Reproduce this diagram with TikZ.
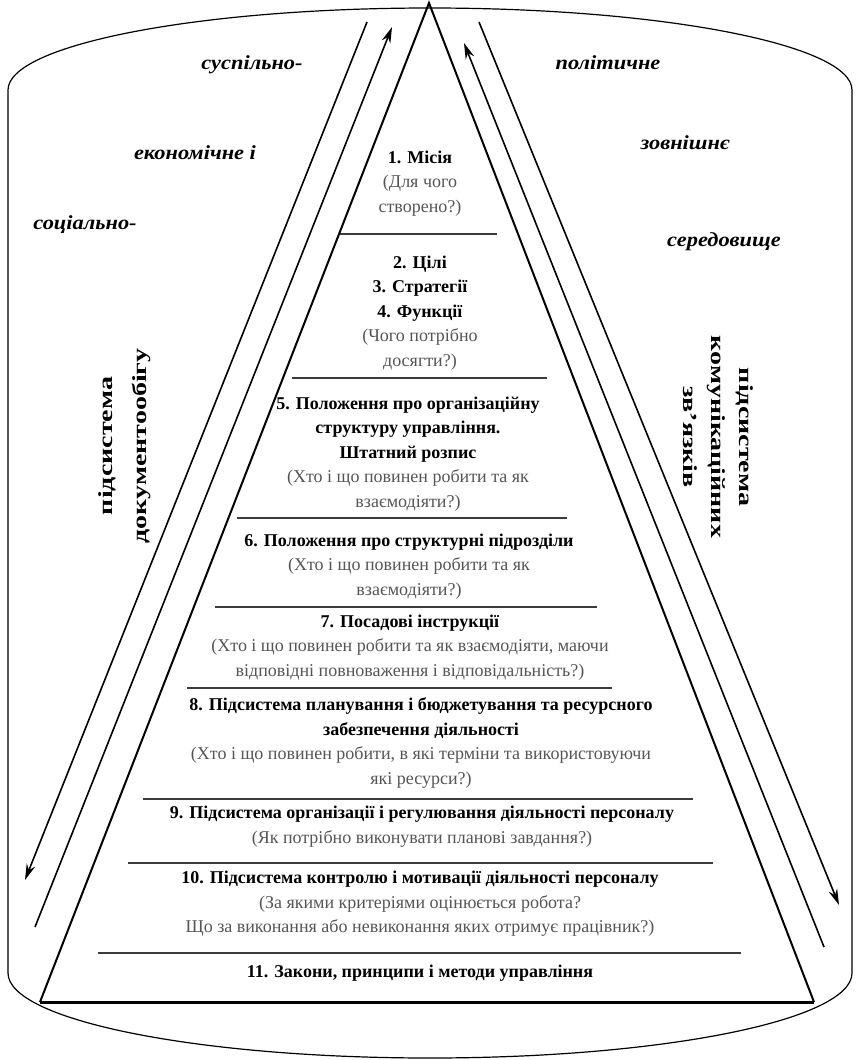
\documentclass[tikz,border=0pt]{standalone}
\usepackage{fontspec}
\setmainfont{Liberation Serif}
\usetikzlibrary{arrows.meta}
\definecolor{qGray}{RGB}{85,85,85}
\definecolor{sepGray}{RGB}{60,60,60}
\newcommand{\qq}[1]{{\color{qGray}#1}}

\begin{document}
\begin{tikzpicture}[x=1pt, y=-1pt, every node/.style={align=center},
  level/.style={font=\fontsize{18}{24.5}\selectfont},
  envtext/.style={font=\fontsize{20}{23}\selectfont\bfseries\itshape, xscale=1.12},
  subtext/.style={font=\fontsize{20}{34}\selectfont\bfseries, yscale=1.4},
  flow/.style={line width=1.6pt, -{Stealth[length=16pt,width=9pt]}},
  sep/.style={line width=1.8pt, sepGray}]
\useasboundingbox (0,0) rectangle (856,1060);

% Outer environment
\draw[line width=1.2pt] (8,90) .. controls (8,45) and (197,8) .. (430,8)
  .. controls (663,8) and (852,45) .. (852,90) -- (852,973)
  .. controls (852,1020) and (663,1058) .. (430,1058)
  .. controls (197,1058) and (8,1020) .. (8,973) -- cycle;

% Pyramid
\coordinate (apex) at (429,3);
\coordinate (baseL) at (40,1002);
\coordinate (baseR) at (814,1002);
\draw[line width=2pt] (baseL) -- (apex) -- (baseR);
\draw[line width=3pt] (baseL) -- (baseR);

% Levels
\draw[sep] (340,234) -- (497,234);
\draw[sep] (292,378) -- (547,378);
\draw[sep] (237,518) -- (567,518);
\draw[sep] (215,607) -- (597,607);
\draw[sep] (187,688) -- (612,688);
\draw[sep] (143,799) -- (693,799);
\draw[sep] (128,863) -- (713,863);
\draw[sep] (98,953) -- (741,953);

\node[level] (mission) at (420,183.5) {\textbf{1. Місія}\\ \qq{(Для чого}\\ \qq{створено?)}};
\node[level] (goals) at (420,313) {\textbf{2. Цілі}\\ \textbf{3. Стратегії}\\ \textbf{4. Функції}\\ \qq{(Чого потрібно}\\ \qq{досягти?)}};
\node[level] (orgstruct) at (408,454) {\textbf{5. Положення про організаційну}\\ \textbf{структуру управління.}\\ \textbf{Штатний розпис}\\ \qq{(Хто і що повинен робити та як}\\ \qq{взаємодіяти?)}};
\node[level] (units) at (409,566.5) {\textbf{6. Положення про структурні підрозділи}\\ \qq{(Хто і що повинен робити та як}\\ \qq{взаємодіяти?)}};
\node[level] (jobs) at (410,647.5) {\textbf{7. Посадові інструкції}\\ \qq{(Хто і що повинен робити та як взаємодіяти, маючи}\\ \qq{відповідні повноваження і відповідальність?)}};
\node[level] (planning) at (421,743) {\textbf{8. Підсистема планування і бюджетування та ресурсного}\\ \textbf{забезпечення діяльності}\\ \qq{(Хто і що повинен робити, в які терміни та використовуючи}\\ \qq{які ресурси?)}};
\node[level] (organizing) at (422,826.5) {\textbf{9. Підсистема організації і регулювання діяльності персоналу}\\ \qq{(Як потрібно виконувати планові завдання?)}};
\node[level] (control) at (420,904) {\textbf{10. Підсистема контролю і мотивації діяльності персоналу}\\ \qq{(За якими критеріями оцінюється робота?}\\ \qq{Що за виконання або невиконання яких отримує працівник?)}};
\node[level] (laws) at (420,973) {\textbf{11. Закони, принципи і методи управління}};

% Environment words
\node[envtext] (social) at (85,225) {соціально-};
\node[envtext] (economic) at (195,153) {економічне і};
\node[envtext] (public) at (252,65) {суспільно-};
\node[envtext] (political) at (608,63) {політичне};
\node[envtext] (external) at (685,143) {зовнішнє};
\node[envtext] (milieu) at (724,242) {середовище};

% Subsystems along the sides
\node[subtext, rotate=90] (docs) at (125,446) {підсистема\\ документообігу};
\node[subtext, rotate=-90, font=\fontsize{20}{28}\selectfont\bfseries] (comm) at (718,437) {підсистема\\ комунікаційних\\ зв’язків};

% Flows
\coordinate (docsTop) at (367,22);
\coordinate (docsBot) at (25,880);
\coordinate (docsIn) at (35,927);
\coordinate (docsOut) at (392,27);
\coordinate (commIn) at (824,947);
\coordinate (commOut) at (464,43);
\coordinate (commTop) at (479,22);
\coordinate (commBot) at (839,905);
\draw[flow] (docsTop) -- (docsBot);
\draw[flow] (docsIn) -- (docsOut);
\draw[flow] (commIn) -- (commOut);
\draw[flow] (commTop) -- (commBot);
\end{tikzpicture}
\end{document}
